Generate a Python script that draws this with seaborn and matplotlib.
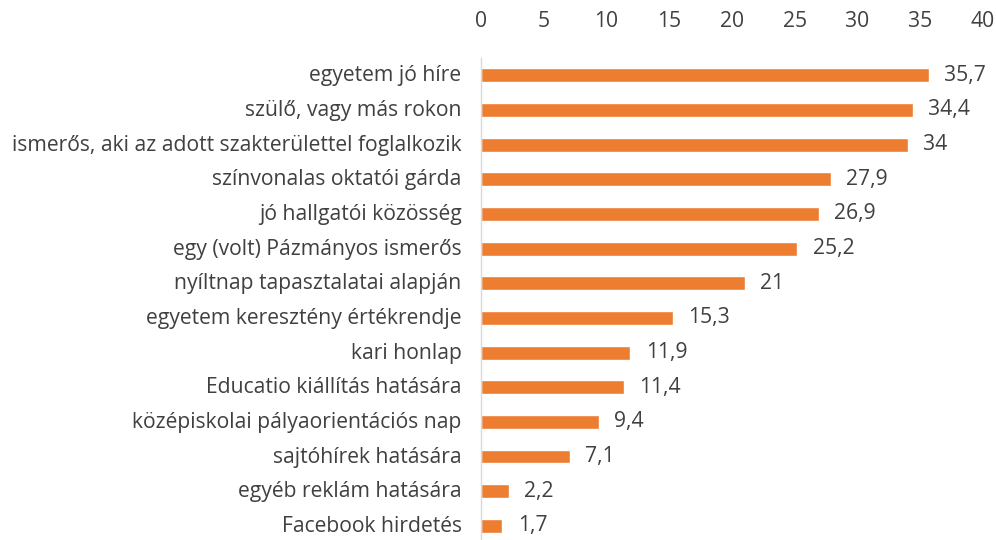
import seaborn as sns
import matplotlib.pyplot as plt
import matplotlib.transforms as mtransforms
import pandas as pd

categories = ['egyetem jó híre', 'szülő, vagy más rokon',
              'ismerős, aki az adott szakterülettel foglalkozik',
              'színvonalas oktatói gárda', 'jó hallgatói közösség',
              'egy (volt) Pázmányos ismerős', 'nyíltnap tapasztalatai alapján',
              'egyetem keresztény értékrendje', 'kari honlap',
              'Educatio kiállítás hatására', 'középiskolai pályaorientációs nap',
              'sajtóhírek hatására', 'egyéb reklám hatására', 'Facebook hirdetés']
values = [35.7, 34.4, 34, 27.9, 26.9, 25.2, 21, 15.3, 11.9, 11.4, 9.4, 7.1, 2.2, 1.7]
labels = ['35,7', '34,4', '34', '27,9', '26,9', '25,2', '21', '15,3', '11,9',
          '11,4', '9,4', '7,1', '2,2', '1,7']
xticks = [0, 5, 10, 15, 20, 25, 30, 35, 40]

df = pd.DataFrame({'cat': categories, 'val': values})

sns.set_style('white')
plt.rcParams['font.family'] = ['Open Sans', 'DejaVu Sans']
text_col = '#404040'
fs = 15.2

fig = plt.figure(figsize=(9.96, 5.4), dpi=100)
# plot area: top at 58px, 14 rows of ~34.8px
ax = fig.add_axes([481 / 996, -3.2 / 540, 502 / 996, 485.2 / 540])

sns.barplot(data=df, x='val', y='cat', color='#ED7D31', width=0.4,
            saturation=1, ax=ax)

# nudge text up a little so the last row is not clipped
shift = mtransforms.ScaledTranslation(0, 2 / 100, fig.dpi_scale_trans)

for i, (v, lab) in enumerate(zip(values, labels)):
    t = ax.annotate(lab, xy=(v, i), xytext=(11, 0), textcoords='offset points',
                    va='center', ha='left', fontsize=fs, color=text_col)

ax.set_xlim(0, 40)
ax.set_ylim(13.5, -0.5)
ax.set_xticks(xticks)
ax.xaxis.tick_top()
ax.tick_params(axis='x', length=0, pad=19, labelsize=fs, colors=text_col)
ax.tick_params(axis='y', length=0, pad=14, labelsize=fs, colors=text_col)
for lbl in ax.get_yticklabels():
    lbl.set_transform(lbl.get_transform() + shift)
ax.set_xlabel('')
ax.set_ylabel('')
for s in ['top', 'right', 'bottom']:
    ax.spines[s].set_visible(False)
ax.spines['left'].set_color('#D9D9D9')
ax.spines['left'].set_linewidth(1)

fig.savefig('out.png', dpi=100)
